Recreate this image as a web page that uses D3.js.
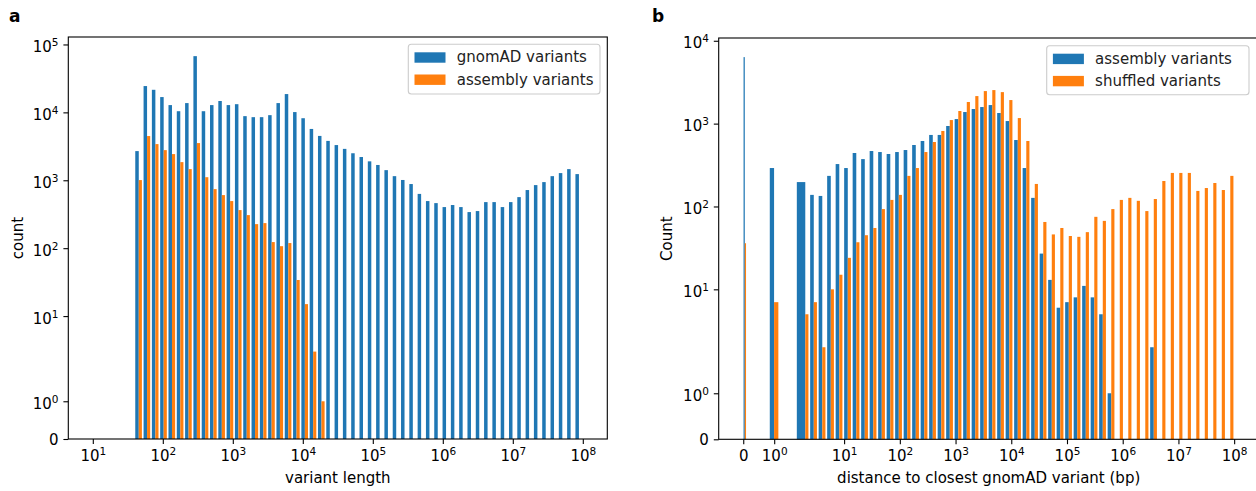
<!DOCTYPE html>
<html>
<head>
<meta charset="utf-8">
<script src="https://cdn.jsdelivr.net/npm/d3@7"></script>
<style>
  body { margin: 0; background: #fff; }
  text { font-family: "DejaVu Sans", sans-serif; }
</style>
</head>
<body>
<script>
const width = 1256;
const height = 491;
const fontSize = 15;

// histogram bin edges (log spaced, like np.logspace)
const lengthEdges = d3.range(60).map(k => Math.pow(10, 1 + k * 7 / 59));
const distanceEdges = [0].concat(d3.range(60).map(k => Math.pow(10, -1 + k * 9 / 59)));

// panel a counts, one per length bin
const gnomadLengthCounts = [
  0, 0, 0, 0, 0, 2690, 24400, 21500, 16800, 12800,
  10400, 13700, 67300, 10400, 12800, 14700, 12800, 13200, 8800, 8500,
  8500, 9100, 13700, 18600, 10100, 8200, 5700, 4500, 3800, 3300,
  2900, 2500, 2200, 1900, 1680, 1410, 1150, 1010, 880, 630,
  494, 461, 403, 432, 403, 340, 352, 477, 477, 403,
  477, 565, 718, 849, 940, 1150, 1276, 1460, 1233
];
const assemblyLengthCounts = [
  0, 0, 0, 0, 0, 1007, 4480, 3410, 2780, 2430,
  1850, 1460, 3530, 1110, 741, 605, 494, 364, 307, 226,
  234, 123, 107, 119, 34, 15, 3, 1, 0, 0,
  0, 0, 0, 0, 0, 0, 0, 0, 0, 0,
  0, 0, 0, 0, 0, 0, 0, 0, 0, 0,
  0, 0, 0, 0, 0, 0, 0, 0, 0
];

// panel b counts, one per distance bin
const assemblyDistCounts = [
  6350, 0, 0, 0, 0, 0, 0, 291, 0, 197,
  138, 134, 234, 325, 291, 442, 373, 467, 454, 430,
  454, 480, 552, 617, 730, 730, 936, 1135, 1380, 1500,
  1585, 1675, 1343, 1074, 634, 291, 127, 27, 13, 6,
  7, 8, 11, 8, 5, 1, 0, 0, 0, 0,
  2, 0, 0, 0, 0, 0, 0, 0, 0, 0
];
const shuffledDistCounts = [
  36, 0, 0, 0, 0, 0, 0, 7, 0, 5,
  7, 2, 10, 15, 24, 37, 45, 55, 93, 120,
  138, 234, 291, 454, 600, 815, 1104, 1420, 1824, 2150,
  2470, 2540, 2400, 1925, 1167, 617, 187, 65, 46, 55,
  44, 43, 49, 75, 67, 93, 120, 127, 117, 88,
  123, 203, 254, 254, 254, 154, 167, 192, 158, 234
];

// tick values
const lengthTicks = [1e1, 1e2, 1e3, 1e4, 1e5, 1e6, 1e7, 1e8];
const distanceTicks = [0, 1, 1e1, 1e2, 1e3, 1e4, 1e5, 1e6, 1e7, 1e8];
const countTicksA = [0, 1, 1e1, 1e2, 1e3, 1e4, 1e5];
const countTicksB = [0, 1, 1e1, 1e2, 1e3, 1e4];

const blue = "#1f77b4";
const orange = "#ff7f0e";

const svg = d3.select("body")
    .append("svg")
    .attr("width", width)
    .attr("height", height)
    .attr("viewBox", [0, 0, width, height]);

// matplotlib symlog (linthresh 2, linscale 1), output in decades
const linthresh = 2;
const linscaleAdj = 1 / (1 - 1 / 10);
function symlog(v) {
    const a = Math.abs(v);
    if (a <= linthresh) return v * linscaleAdj / linthresh;
    return Math.sign(v) * (linscaleAdj + Math.log10(a / linthresh));
}
// wrap a d3 linear scale so the axis generator can use it
function wrapSymlog(lin) {
    const s = v => lin(symlog(v));
    s.copy = () => wrapSymlog(lin.copy());
    s.range = () => lin.range();
    s.domain = () => lin.domain();
    return s;
}

function powerLabel(sel, d) {
    sel.text(null);
    if (d === 0) { sel.text("0"); return; }
    sel.append("tspan").text("10");
    sel.append("tspan").attr("dy", -6).attr("font-size", 10.5).text(Math.round(Math.log10(d)));
}

function drawPanel(p) {
    const {x0, x1, y0, y1} = p.box;
    const g = svg.append("g");

    const uMax = d3.max(p.series, s => d3.max(s.counts, c => symlog(c))) * 1.05;
    const yScale = wrapSymlog(d3.scaleLinear().domain([0, uMax]).range([y1, y0]));
    const xScale = p.xScale;

    // bars, matplotlib hist layout: 2 datasets, rwidth 0.8
    p.series.forEach((s, si) => {
        const bins = s.counts.map((c, i) => ({c, e0: p.edges[i], e1: p.edges[i + 1]}))
            .filter(b => b.c > 0);
        g.append("g").selectAll("rect")
            .data(bins)
            .enter()
            .append("rect")
            .attr("x", b => xScale(b.e0 + (b.e1 - b.e0) * (0.1 + 0.4 * si)))
            .attr("width", b => xScale(b.e0 + (b.e1 - b.e0) * (0.5 + 0.4 * si)) - xScale(b.e0 + (b.e1 - b.e0) * (0.1 + 0.4 * si)))
            .attr("y", b => yScale(b.c))
            .attr("height", b => yScale(0) - yScale(b.c))
            .style("fill", s.color);
    });

    // x axis
    const xAxis = d3.axisBottom(xScale)
        .tickValues(p.xTicks)
        .tickSize(4.9)
        .tickSizeOuter(0)
        .tickFormat(() => "");
    const gx = g.append("g")
        .attr("transform", `translate(0, ${y1})`)
        .call(xAxis)
        .attr("font-size", fontSize)
        .attr("font-family", "DejaVu Sans");
    gx.select(".domain").remove();
    gx.selectAll(".tick line").attr("stroke-width", 1.1);
    gx.selectAll(".tick text")
        .attr("dy", null)
        .attr("y", 22)
        .each(function(d) { powerLabel(d3.select(this), d); });

    // y axis
    const yAxis = d3.axisLeft(yScale)
        .tickValues(p.yTicks)
        .tickSize(4.9)
        .tickSizeOuter(0)
        .tickFormat(() => "");
    const gy = g.append("g")
        .attr("transform", `translate(${x0}, 0)`)
        .call(yAxis)
        .attr("font-size", fontSize)
        .attr("font-family", "DejaVu Sans");
    gy.select(".domain").remove();
    gy.selectAll(".tick line").attr("stroke-width", 1.1);
    gy.selectAll(".tick text")
        .attr("dy", null)
        .attr("x", -9.8)
        .attr("y", d => d === 0 ? 5.3 : 7)
        .each(function(d) { powerLabel(d3.select(this), d); });

    // spines
    g.append("rect")
        .attr("x", x0).attr("y", y0)
        .attr("width", x1 - x0).attr("height", y1 - y0)
        .attr("fill", "none")
        .attr("stroke", "black")
        .attr("stroke-width", 1.1);

    // labels
    g.append("text")
        .attr("x", (x0 + x1) / 2)
        .attr("y", 483)
        .attr("text-anchor", "middle")
        .attr("font-size", fontSize)
        .text(p.xLabel);
    g.append("text")
        .attr("transform", `translate(${p.yLabelX}, ${(y0 + y1) / 2}) rotate(-90)`)
        .attr("text-anchor", "middle")
        .attr("font-size", fontSize)
        .text(p.yLabel);
    g.append("text")
        .attr("x", p.tag.x)
        .attr("y", 22)
        .attr("font-size", 17)
        .attr("font-weight", "bold")
        .text(p.tag.text);

    // legend
    const L = p.legend;
    const lg = g.append("g");
    lg.append("rect")
        .attr("x", L.x).attr("y", L.y)
        .attr("width", L.w).attr("height", L.h)
        .attr("rx", 3)
        .attr("fill", "white")
        .attr("fill-opacity", 0.8)
        .attr("stroke", "#cccccc")
        .attr("stroke-width", 1.1);
    p.series.forEach((s, si) => {
        const cy = L.y + 13.2 + si * 22.2;
        lg.append("rect")
            .attr("x", L.x + 6.2).attr("y", cy - 5.2)
            .attr("width", 31).attr("height", 10.4)
            .attr("fill", s.color);
        lg.append("text")
            .attr("x", L.x + 48.4)
            .attr("y", cy + 4.8)
            .attr("font-size", fontSize)
            .attr("fill", "#222")
            .text(s.name);
    });
}

// panel a
const lenLo = Math.log10(lengthEdges[0]);
const lenHi = Math.log10(lengthEdges[lengthEdges.length - 1]);
const lenPad = 0.05 * (lenHi - lenLo);
drawPanel({
    box: {x0: 68.3, x1: 607.3, y0: 37, y1: 439},
    edges: lengthEdges,
    xScale: d3.scaleLog()
        .domain([Math.pow(10, lenLo - lenPad), Math.pow(10, lenHi + lenPad)])
        .range([68.3, 607.3]),
    xTicks: lengthTicks,
    yTicks: countTicksA,
    series: [
        {counts: gnomadLengthCounts, color: blue, name: "gnomAD variants"},
        {counts: assemblyLengthCounts, color: orange, name: "assembly variants"}
    ],
    xLabel: "variant length",
    yLabel: "count",
    yLabelX: 22.7,
    tag: {text: "a", x: 9},
    legend: {x: 408.3, y: 44.3, w: 191.7, h: 49.7}
});

// panel b
const distLo = symlog(distanceEdges[0]);
const distHi = symlog(distanceEdges[distanceEdges.length - 1]);
const distPad = 0.05 * (distHi - distLo);
drawPanel({
    box: {x0: 718.7, x1: 1258.7, y0: 38, y1: 439.3},
    edges: distanceEdges,
    xScale: wrapSymlog(d3.scaleLinear()
        .domain([distLo - distPad, distHi + distPad])
        .range([718.7, 1258.7])),
    xTicks: distanceTicks,
    yTicks: countTicksB,
    series: [
        {counts: assemblyDistCounts, color: blue, name: "assembly variants"},
        {counts: shuffledDistCounts, color: orange, name: "shuffled variants"}
    ],
    xLabel: "distance to closest gnomAD variant (bp)",
    yLabel: "Count",
    yLabelX: 671.5,
    tag: {text: "b", x: 652},
    legend: {x: 1046.7, y: 45.7, w: 202.3, h: 49}
});
</script>
</body>
</html>
